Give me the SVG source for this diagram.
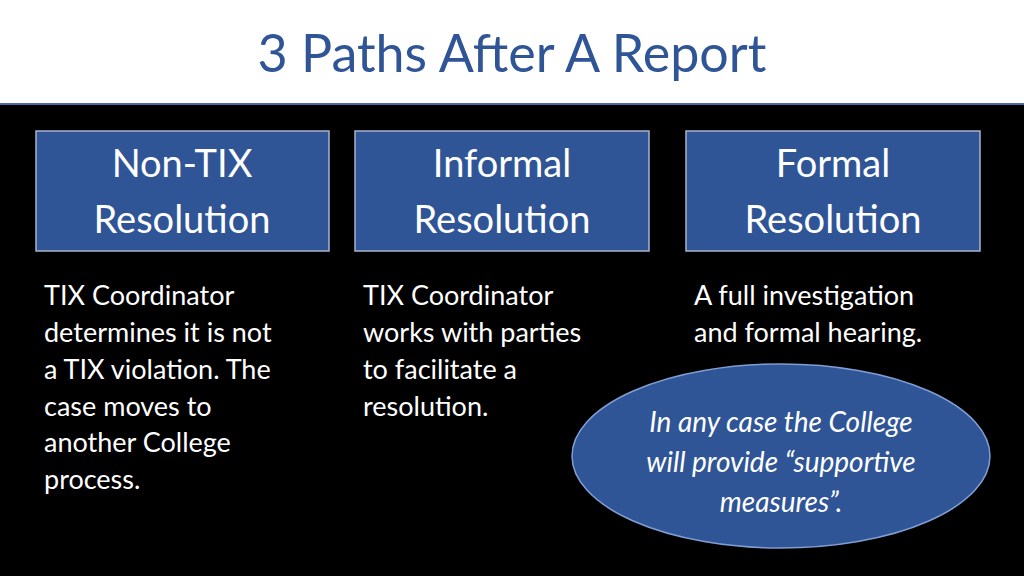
<svg xmlns="http://www.w3.org/2000/svg" width="1024" height="576" viewBox="0 0 1024 576">
<style>
.box{fill:#2f5597;stroke:#a6b4cc;stroke-width:1.5}
.bt{font-family:Lato,"Noto Sans",sans-serif;font-size:38px;fill:#fff;text-anchor:middle}
.tx{font-family:Lato,"Noto Sans",sans-serif;font-size:27px;fill:#fff}
.el{font-family:Lato,"Noto Sans",sans-serif;font-size:28px;fill:#fff;font-style:italic;text-anchor:middle}
</style>
<rect width="1024" height="576" fill="#000"/>
<rect width="1024" height="104" fill="#fff"/>
<line x1="0" y1="104" x2="1024" y2="104" stroke="#4a6aa8" stroke-width="2"/>
<text x="512" y="72" font-family="Lato,'Noto Sans',sans-serif" font-size="52" fill="#2f5597" text-anchor="middle">3 Paths After A Report</text>
<g id="n1"><rect class="box" x="36" y="131" width="293" height="120"/><text class="bt" x="182" y="177">Non-TIX</text><text class="bt" x="182" y="233">Resolution</text></g>
<g id="n2"><rect class="box" x="355" y="131" width="294" height="120"/><text class="bt" x="502" y="177">Informal</text><text class="bt" x="502" y="233">Resolution</text></g>
<g id="n3"><rect class="box" x="686" y="131" width="294" height="120"/><text class="bt" x="833" y="177">Formal</text><text class="bt" x="833" y="233">Resolution</text></g>
<g id="t1" class="tx"><text x="44" y="305">TIX Coordinator</text><text x="44" y="342">determines it is not</text><text x="44" y="379">a TIX violation. The</text><text x="44" y="416">case moves to</text><text x="44" y="452">another College</text><text x="44" y="489">process.</text></g>
<g id="t2" class="tx"><text x="363" y="305">TIX Coordinator</text><text x="363" y="342">works with parties</text><text x="363" y="379">to facilitate a</text><text x="363" y="416">resolution.</text></g>
<g id="t3" class="tx"><text x="694" y="305">A full investigation</text><text x="694" y="342">and formal hearing.</text></g>
<g id="e"><ellipse cx="781" cy="456" rx="209" ry="92" fill="#2f5597" stroke="#7f9fd4" stroke-width="1.5"/><text class="el" x="781" y="432">In any case the College</text><text class="el" x="781" y="472">will provide “supportive</text><text class="el" x="781" y="512">measures”.</text></g>
<g id="connectors"/>
</svg>
